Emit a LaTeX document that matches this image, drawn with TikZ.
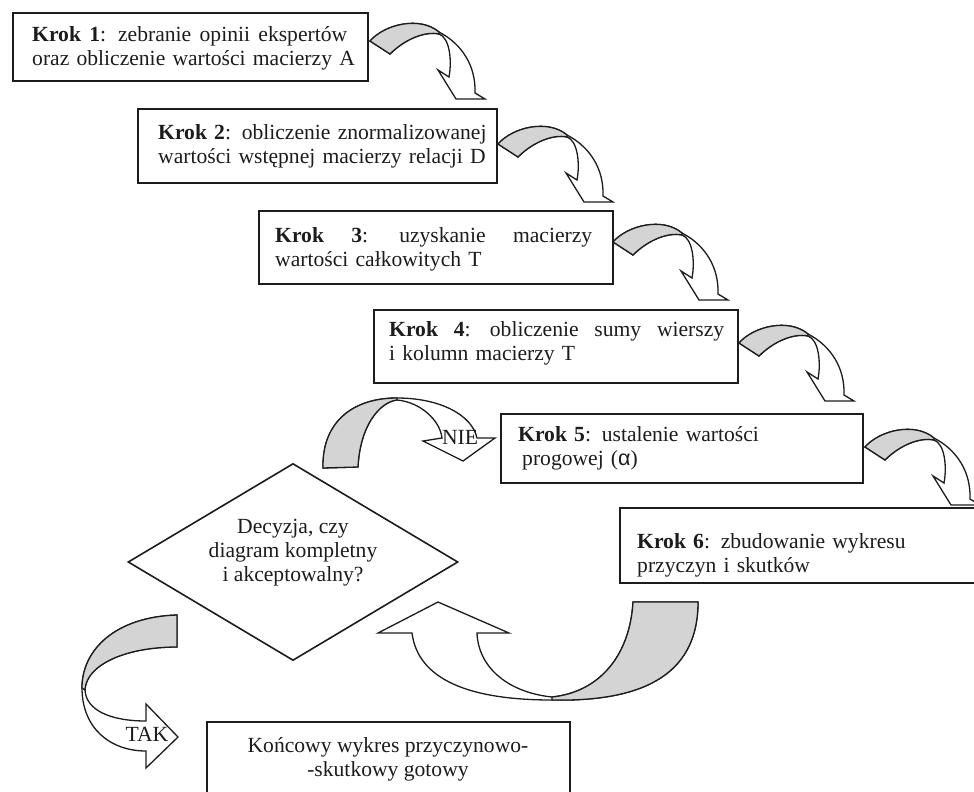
\documentclass[tikz,border=0pt]{standalone}
\usepackage{fontspec}
\setmainfont{Liberation Serif}
\newfontfamily\alphafont{Liberation Sans}
\usetikzlibrary{shapes.geometric}
\definecolor{ribbongray}{RGB}{212,212,212}
\definecolor{inkline}{RGB}{28,28,28}
\begin{document}
\begin{tikzpicture}[x=1pt,y=-1pt,
  stepbox/.style={draw=inkline, line width=1.6pt, rectangle, inner sep=0pt, anchor=north west},
  txt/.style={inner sep=0pt, font=\fontsize{21.6}{24}\selectfont, align=left, text=inkline},
  ribbon/.style={draw=inkline, line width=1.3pt, line join=miter, fill=white},
  ribbonback/.style={draw=inkline, line width=1.3pt, line join=miter, fill=ribbongray},
  pics/steparrow/.style={code={
    \path[ribbon] (0,0) .. controls (15,-17) and (50,-25) .. (69,-9)
      .. controls (92,3) and (106,25) .. (105,52) -- (115,58) -- (86,58) -- (68,29) -- (79,36)
      .. controls (82,20) and (80,-3) .. (69,-7)
      .. controls (55,-10) and (35,-2) .. (20,13) -- cycle;
    \path[ribbonback] (0,0) .. controls (15,-17) and (50,-25) .. (69,-9) -- (69,-7)
      .. controls (55,-10) and (35,-2) .. (20,13) -- cycle;
  }}
]
\useasboundingbox (0,0) rectangle (974,792);
\clip (0,0) rectangle (974,792);

% boxes
\node[stepbox, minimum width=355pt, minimum height=68pt] (k1) at (12,12) {};
\node[stepbox, minimum width=359pt, minimum height=74pt] (k2) at (137,108) {};
\node[stepbox, minimum width=354pt, minimum height=73pt] (k3) at (258,210) {};
\node[stepbox, minimum width=364pt, minimum height=73pt] (k4) at (373,309) {};
\node[stepbox, minimum width=362pt, minimum height=69pt] (k5) at (500,413) {};
\node[stepbox, minimum width=380pt, minimum height=75pt] (k6) at (619,507) {};
\node[stepbox, minimum width=363pt, minimum height=100pt] (k7) at (206,721) {};
\node[draw=inkline, line width=1.6pt, diamond, aspect=1.675, inner sep=0pt,
      minimum width=330pt, minimum height=197pt, txt, align=center] (dec) at (293,562)
      {Decyzja, czy\\diagram kompletny\\i akceptowalny?\\[-8pt]\strut};

% texts
\node[txt, anchor=west, text width=380pt] (t1) at (32,48)
  {\makebox[315pt][s]{\textbf{Krok \hfill 1}: \hfill zebranie \hfill opinii \hfill ekspertów}\\oraz obliczenie wartości macierzy A};
\node[txt, anchor=west, text width=380pt] (t2) at (158,146)
  {\makebox[326pt][s]{\textbf{Krok \hfill 2}: \hfill obliczenie \hfill znormalizowanej}\\wartości wstępnej macierzy relacji D};
\node[txt, anchor=west, text width=380pt] (t3) at (275,249)
  {\makebox[317pt][s]{\textbf{Krok \hfill 3}: \hfill uzyskanie \hfill macierzy}\\wartości całkowitych T};
\node[txt, anchor=west, text width=380pt] (t4) at (389,343.5)
  {\makebox[335pt][s]{\textbf{Krok \hfill 4}: \hfill obliczenie \hfill sumy \hfill wierszy}\\i kolumn macierzy T};
\node[txt, anchor=west, text width=380pt] (t5) at (518,448)
  {\textbf{Krok 5}: ustalenie wartości\\\hspace*{4pt}progowej ({\alphafont α})};
\node[txt, anchor=west, text width=380pt] (t6) at (637,555)
  {\textbf{Krok 6}: zbudowanie wykresu\\przyczyn i skutków};
\node[txt, align=center] (t7) at (388,759)
  {Końcowy wykres przyczynowo-\\-skutkowy gotowy};

% step arrows
\pic at (370,41) {steparrow};
\pic at (498,144) {steparrow};
\pic at (613,242) {steparrow};
\pic at (739,343) {steparrow};
\pic at (865,447) {steparrow};

% NIE arrow (from decision back up to step 5)
\path[ribbon] (323,468) .. controls (322,420) and (355,398) .. (397,398)
  .. controls (440,398) and (472,415) .. (477,438) -- (495,438) -- (463,461) -- (423,441) -- (442,438)
  .. controls (440,420) and (420,402) .. (397,400)
  .. controls (380,402) and (360,425) .. (358,467) -- cycle;
\path[ribbonback] (323,468) .. controls (322,420) and (355,398) .. (397,398) -- (397,400)
  .. controls (380,402) and (360,425) .. (358,467) -- cycle;

% big arrow from step 6 to decision
\path[ribbon] (698,602) .. controls (698,670) and (650,702) .. (552,700)
  .. controls (470,700) and (418,680) .. (412,633) -- (378,633) -- (438,602) -- (509,633) -- (477,633)
  .. controls (478,665) and (505,692) .. (552,697)
  .. controls (600,692) and (630,655) .. (633,602) -- cycle;
\path[ribbonback] (698,602) .. controls (698,670) and (650,702) .. (552,700) -- (552,697)
  .. controls (600,692) and (630,655) .. (633,602) -- cycle;

% TAK arrow
\path[ribbon] (177,615) .. controls (115,617) and (82,650) .. (82,688)
  .. controls (82,728) and (110,751) .. (146,751) -- (146,768) -- (178,737) -- (146,704) -- (146,721)
  .. controls (110,721) and (86,710) .. (85,690)
  .. controls (86,665) and (125,647) .. (177,647) -- cycle;
\path[ribbonback] (177,615) .. controls (115,617) and (82,650) .. (82,688) -- (85,690)
  .. controls (86,665) and (125,647) .. (177,647) -- cycle;

% labels
\node[txt] (nie) at (460,437) {NIE};
\node[txt] (tak) at (147,734) {TAK};
\end{tikzpicture}
\end{document}
